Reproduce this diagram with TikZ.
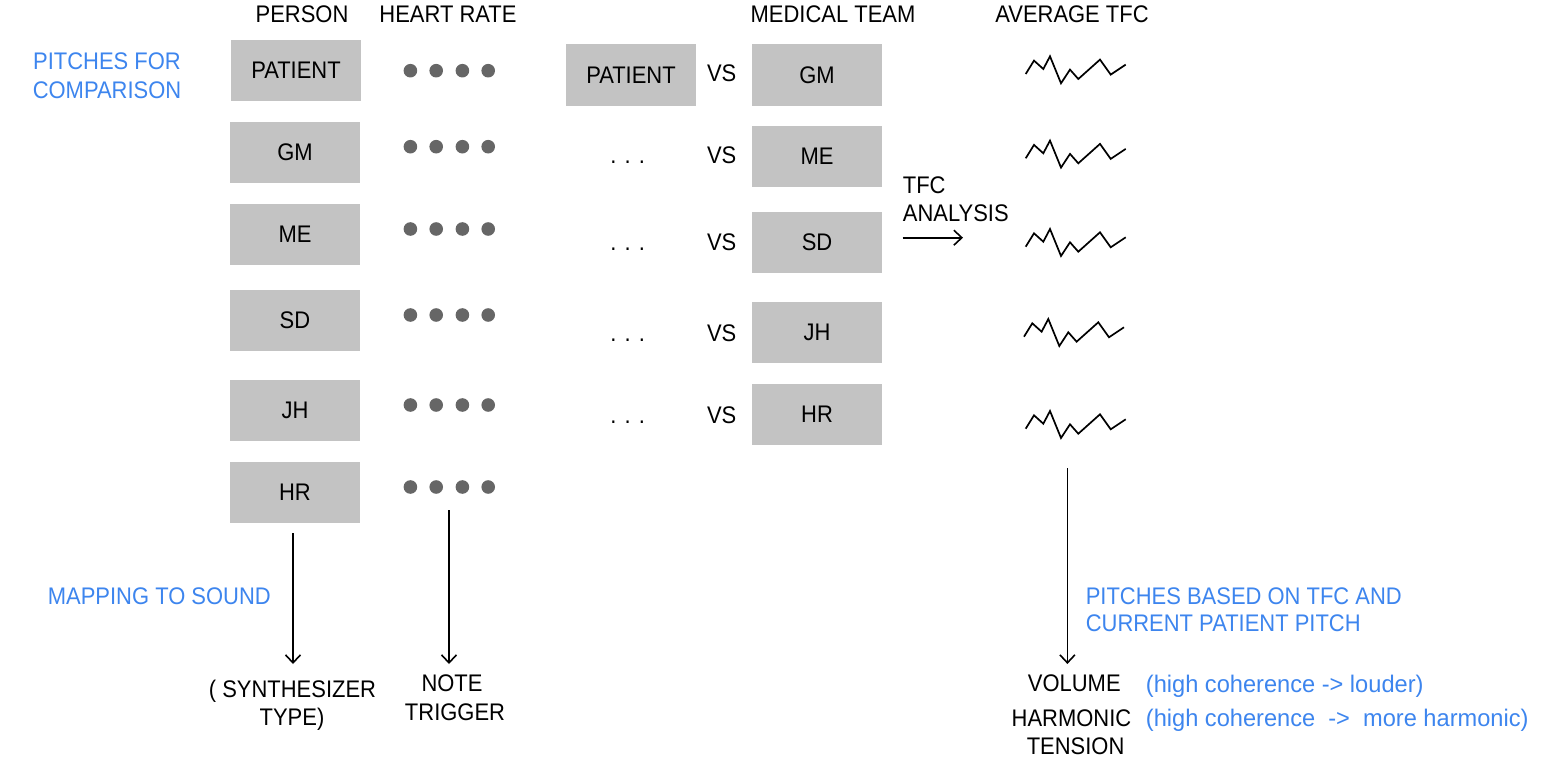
\documentclass[tikz,border=0pt]{standalone}
\usepackage{fontspec}
\setmainfont{Liberation Sans}[FakeStretch=0.915]
\newfontfamily\widefont{Liberation Sans}[FakeStretch=0.984]
\usetikzlibrary{arrows.meta}
\definecolor{boxgray}{HTML}{C3C3C3}
\definecolor{dotgray}{HTML}{666666}
\definecolor{noteblue}{HTML}{3D85EE}
\begin{document}
\begin{tikzpicture}[x=1pt,y=-1pt,
  every node/.style={font=\fontsize{24}{28}\selectfont, inner sep=0pt},
  gbox/.style={fill=boxgray, minimum width=130pt, minimum height=61pt},
  lbl/.style={anchor=base},
  lbll/.style={anchor=base west},
  bluetxt/.style={text=noteblue},
  arr/.style={-{Straight Barb[length=8pt,width=15pt]}, line width=1.6pt},
  hrdot/.style={fill=dotgray, draw=none},
  zzline/.style={line width=1.7pt, line join=miter},
  zz/.pic={\draw[zzline] (0,0) -- (8.3,-13.4) -- (17.6,-5) -- (24.3,-17.7) -- (35.3,9.3) -- (44.3,-4.4) -- (52.6,5) -- (74.3,-14.4) -- (85,0.6) -- (100,-9.4);}
]
\useasboundingbox (0,0) rectangle (1548,760);

% headers
\node[lbl] (hPerson) at (302,22.7) {PERSON};
\node[lbl] (hHeart) at (448,22.7) {HEART RATE};
\node[lbl] (hTeam) at (833,22.7) {MEDICAL TEAM};
\node[lbl] (hAvg) at (1072,22.7) {AVERAGE TFC};

% left note
\node[lbl,bluetxt] (pitch1) at (107,70) {PITCHES FOR};
\node[lbl,bluetxt] (pitch2) at (107,98.3) {COMPARISON};

% person boxes
\node[gbox] (pPatient) at (296,70.5) {PATIENT};
\node[gbox] (pGM) at (295,152.5) {GM};
\node[gbox] (pME) at (295,234.5) {ME};
\node[gbox] (pSD) at (295,320.5) {SD};
\node[gbox] (pJH) at (295,410.5) {JH};
\node[gbox] (pHR) at (295,492.5) {HR};

% heart rate dots
\foreach \yy in {70.7,146.7,229,315,405,487}{
  \foreach \xx in {410.4,436.2,462.4,488.2}{
    \fill[hrdot] (\xx,\yy) circle (6.8);
  }
}

% comparison
\node[gbox] (cPatient) at (631,75) {PATIENT};
\node[gbox] (tGM) at (817,75) {GM};
\node[gbox] (tME) at (817,156.5) {ME};
\node[gbox] (tSD) at (817,242.5) {SD};
\node[gbox] (tJH) at (817,332.5) {JH};
\node[gbox] (tHR) at (817,414.5) {HR};

\node[lbl] (vs1) at (721.7,81.7) {VS};
\node[lbl] (vs2) at (721.7,163.3) {VS};
\node[lbl] (vs3) at (721.7,250) {VS};
\node[lbl] (vs4) at (721.7,341.7) {VS};
\node[lbl] (vs5) at (721.7,423.3) {VS};

\node[lbl] (el2) at (627.7,163.3) {. . .};
\node[lbl] (el3) at (627.7,250) {. . .};
\node[lbl] (el4) at (627.7,341.7) {. . .};
\node[lbl] (el5) at (627.7,423.3) {. . .};

% TFC analysis
\node[lbll] (tfc1) at (902.7,193.3) {TFC};
\node[lbll] (tfc2) at (902.7,221.7) {ANALYSIS};
\coordinate (tfcA) at (902.7,237.7);
\coordinate (tfcB) at (963,237.7);
\draw[arr] (tfcA) -- (tfcB);

% zigzags
\pic at (1025.7,74) {zz};
\pic at (1025.7,158.3) {zz};
\pic at (1025.7,246.7) {zz};
\pic at (1024,336.7) {zz};
\pic at (1025.7,428.7) {zz};

% bottom left
\node[lbll,bluetxt] (map) at (47.7,604) {MAPPING TO SOUND};
\node[lbl] (syn1) at (292.5,697.7) {( SYNTHESIZER};
\node[lbl] (syn2) at (292,725) {TYPE)};
\node[lbl] (note1) at (452,691.7) {NOTE};
\node[lbl] (note2) at (455,720) {TRIGGER};
\coordinate (a1s) at (293,533);
\coordinate (a1e) at (293,664);
\coordinate (a2s) at (449,510);
\coordinate (a2e) at (449,664);
\draw[arr] (a1s) -- (a1e);
\draw[arr] (a2s) -- (a2e);

% bottom right
\coordinate (a3s) at (1067.4,468);
\coordinate (a3e) at (1067.4,664);
\draw[arr] (a3s) -- (a3e);
\node[lbll,bluetxt] (pb1) at (1085.6,604.3) {PITCHES BASED ON TFC AND};
\node[lbll,bluetxt] (pb2) at (1085.6,631.7) {CURRENT PATIENT PITCH};
\node[lbl] (vol) at (1074.3,691.7) {VOLUME};
\node[lbl] (harm1) at (1071.5,726) {HARMONIC};
\node[lbl] (harm2) at (1075.6,754.3) {TENSION};
\node[lbll,bluetxt,font=\widefont\fontsize{24}{28}\selectfont] (hc1) at (1145.7,692.3) {(high coherence -> louder)};
\node[lbll,bluetxt,font=\widefont\fontsize{24}{28}\selectfont] (hc2) at (1145.7,726.7) {(high coherence \ -> \ more harmonic)};
\end{tikzpicture}
\end{document}
